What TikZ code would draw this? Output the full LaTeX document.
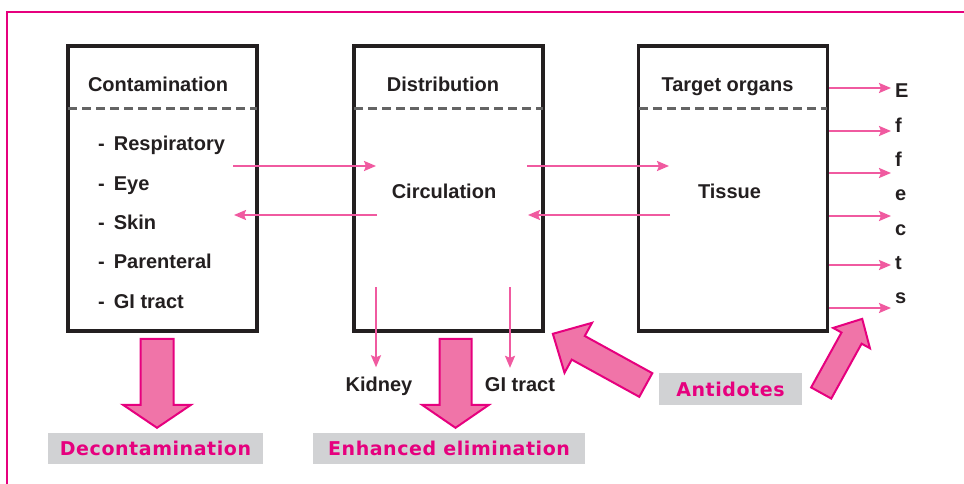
\documentclass[tikz,border=0pt]{standalone}
\usepackage{fontspec}
\setmainfont{Liberation Sans}
\newfontfamily\labelfont[LetterSpace=3]{DejaVu Sans}
\usetikzlibrary{arrows.meta,calc}

\definecolor{framepink}{RGB}{230,0,126}
\definecolor{linkpink}{RGB}{240,90,160}
\definecolor{fatpink}{RGB}{240,116,168}
\definecolor{labelgray}{RGB}{209,210,212}
\definecolor{boxblack}{RGB}{35,31,32}
\definecolor{dashgray}{RGB}{100,100,100}

% fat arrow: from, to, shaft width, head width, head length
\newcommand{\fatarrow}[5]{%
  \draw[fatarrow] let \p1=#1, \p2=#2,
    \n1={atan2(\y2-\y1,\x2-\x1)}, \n2={veclen(\x2-\x1,\y2-\y1)} in
    [shift={(\p1)}, rotate=\n1]
    (0,-#3/2) -- (\n2-#5,-#3/2) -- (\n2-#5,-#4/2) -- (\n2,0)
    -- (\n2-#5,#4/2) -- (\n2-#5,#3/2) -- (0,#3/2) -- cycle;}

\begin{document}
\begin{tikzpicture}[x=1pt, y=-1pt,
    organbox/.style={draw=boxblack, line width=3.5pt, minimum width=189pt,
      minimum height=285pt, inner sep=0pt},
    sepline/.style={dashgray, line width=3pt, dash pattern=on 9pt off 5pt},
    txt/.style={font=\bfseries\fontsize{20}{24}\selectfont, text=boxblack,
      inner sep=0pt, anchor=base},
    item/.style={txt, anchor=base west},
    link/.style={linkpink, line width=2pt,
      -{Stealth[length=12pt, width=10pt, inset=2pt]}},
    fatarrow/.style={draw=framepink, fill=fatpink, line width=2pt,
      line join=miter},
    treatment/.style={fill=labelgray, text=framepink, inner sep=0pt,
      font=\labelfont\bfseries\fontsize{19}{22}\selectfont,
      minimum height=31pt}]

  \useasboundingbox (0,0) rectangle (964,484);

  % frame
  \draw[framepink, line width=2.2pt] (7,484) -- (7,12) -- (964,12);

  % boxes
  \node[organbox] (cont) at (162.5,188.5) {};
  \node[organbox] (dist) at (448.5,188.5) {};
  \node[organbox] (targ) at (733,188.5) {};
  \foreach \b in {cont,dist,targ}
    \draw[sepline] ($(\b.north west)+(2,64)$) -- ($(\b.north east)+(-2,64)$);

  % titles
  \node[txt] (contT) at (158,92) {Contamination};
  \node[txt] (distT) at (443,92) {Distribution};
  \node[txt] (targT) at (727.5,92) {Target organs};
  \node[txt] (circ) at (444,198) {Circulation};
  \node[txt] (tiss) at (729.5,198) {Tissue};

  % routes
  \foreach \t [count=\i] in {Respiratory,Eye,Skin,Parenteral,GI tract}
    \node[item] (route\i) at (98,151+39.25*\i-39.25) {-\hspace{9pt}\t};

  % exchange with circulation and tissue
  \coordinate (contR) at (233,166);
  \coordinate (distL) at (376,166);
  \coordinate (contL) at (234,215);
  \coordinate (distL2) at (377,215);
  \coordinate (distR) at (527,166);
  \coordinate (targL) at (669,166);
  \coordinate (distR2) at (528,215);
  \coordinate (targL2) at (670,215);
  \draw[link] (contR) -- (distL);
  \draw[link] (distL2) -- (contL);
  \draw[link] (distR) -- (targL);
  \draw[link] (targL2) -- (distR2);

  % effects
  \foreach \yy [count=\i] in {88,131,173,216,265,308} {
    \coordinate (eff\i) at (891,\yy);
    \draw[link] (targ.east |- eff\i) -- (eff\i);
  }
  \foreach \c [count=\i] in {E,f,f,e,c,t,s}
    \node[txt, anchor=base west] (letter\i) at (895,98+34.3*\i-34.3) {\c};

  % excretion
  \node[txt] (kidney) at (379,391) {Kidney};
  \node[txt] (gitract) at (520,391) {GI tract};
  \coordinate (kidout) at (376,287);
  \coordinate (giout) at (510,287);
  \draw[link] (kidout) -- ($(kidout |- kidney.north)+(0,-9)$);
  \draw[link] (giout) -- ($(giout |- gitract.north)+(0,-9)$);

  % treatments
  \node[treatment, minimum width=215pt] (decon) at (155.5,448.5) {Decontamination};
  \node[treatment, minimum width=272pt] (elim) at (449,448.5) {Enhanced elimination};
  \node[treatment, minimum width=143pt, minimum height=32pt] (anti) at (730.5,389) {Antidotes};

  \fatarrow{($(decon.north |- cont.south)+(1.5,6)$)}{($(decon.north)+(1.5,-5)$)}{33}{68}{23}
  \fatarrow{($(elim.north |- dist.south)+(6.5,6)$)}{($(elim.north)+(6.5,-5)$)}{32}{67}{23}
  \fatarrow{($(anti.west)+(-13,-4)$)}{($(dist.south east)+(8,1)$)}{27}{57}{29}
  \fatarrow{($(anti.east)+(19,4)$)}{($(targ.south east)+(33,-14)$)}{23}{42}{22}

\end{tikzpicture}
\end{document}
